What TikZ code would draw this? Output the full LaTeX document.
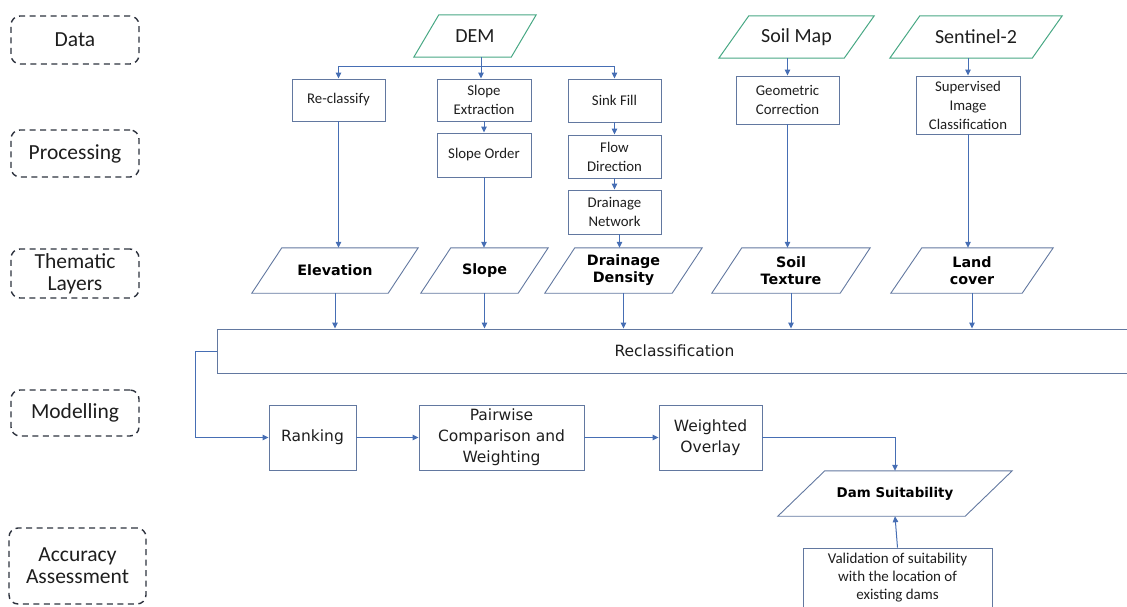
\documentclass[tikz,border=0pt]{standalone}
\usepackage{fontspec}
\setmainfont{Carlito}
\newfontfamily\dvs{DejaVu Sans}
\usetikzlibrary{arrows.meta}
\definecolor{boxc}{RGB}{98,120,160}
\definecolor{arrc}{RGB}{70,110,180}
\definecolor{grn}{RGB}{72,168,132}
\definecolor{dashc}{RGB}{45,50,62}
\definecolor{txt}{RGB}{30,30,30}
\newcommand\parashape[3]{\draw[#1] ([xshift=#3]#2.north west) -- (#2.north east) -- ([xshift=-#3]#2.south east) -- (#2.south west) -- cycle;}
\begin{document}
\begin{tikzpicture}[x=1pt,y=-1pt,
  stage/.style={draw=dashc, line width=1.4pt, dash pattern=on 6pt off 4.5pt, rounded corners=9pt, align=center, text=txt, font=\fontsize{21.5}{22}\selectfont, inner sep=0pt},
  proc/.style={draw=boxc, line width=0.9pt, align=center, inner sep=0pt, text=txt, font=\fontsize{14.8}{19}\selectfont},
  mbox/.style={draw=boxc, line width=0.9pt, align=center, inner sep=0pt, text=txt, font=\dvs\fontsize{15.5}{21}\selectfont},
  para/.style={inner sep=0pt, align=center, text=black, font=\dvs\bfseries\fontsize{14.3}{17}\selectfont},
  gpara/.style={inner sep=0pt, align=center, text=txt, font=\fontsize{20}{22}\selectfont},
  pline/.style={draw=boxc, line width=0.9pt},
  gline/.style={draw=grn, line width=1pt},
  ln/.style={draw=arrc, line width=1pt},
  arr/.style={ln, -{Triangle[length=6pt,width=5.5pt]}},
]
\useasboundingbox (0,0) rectangle (1127,606);

% stage labels
\node[stage, minimum width=128pt, minimum height=48pt] (sdata) at (75,40) {Data};
\node[stage, minimum width=128pt, minimum height=47pt] (sproc) at (75,153.5) {Processing};
\node[stage, minimum width=128pt, minimum height=49pt] (sthem) at (75,273.5) {Thematic\\Layers};
\node[stage, minimum width=128pt, minimum height=46pt] (smod) at (75,413) {Modelling};
\node[stage, minimum width=137pt, minimum height=76pt] (sacc) at (77.5,566) {Accuracy\\Assessment};

% data inputs
\node[gpara, minimum width=122pt, minimum height=42pt] (dem) at (475,36) {DEM};
\parashape{gline}{dem}{25pt}
\node[gpara, minimum width=155pt, minimum height=42pt] (soilmap) at (796.5,37) {Soil Map};
\parashape{gline}{soilmap}{30pt}
\node[gpara, minimum width=172pt, minimum height=42pt] (sent) at (976,37) {Sentinel-2};
\parashape{gline}{sent}{30pt}

% processing
\node[proc, minimum width=93pt, minimum height=42pt] (reclass) at (338.5,100) {Re-classify};
\node[proc, minimum width=94pt, minimum height=42pt] (slopeext) at (484,100) {Slope\\Extraction};
\node[proc, minimum width=94pt, minimum height=44pt] (slopeord) at (484,155) {Slope Order};
\node[proc, minimum width=93pt, minimum height=43pt] (sink) at (614.5,100.5) {Sink Fill};
\node[proc, minimum width=93pt, minimum height=43pt] (flow) at (614.5,156.5) {Flow\\Direction};
\node[proc, minimum width=93pt, minimum height=44pt] (drainnet) at (614.5,212) {Drainage\\Network};
\node[proc, minimum width=103pt, minimum height=48pt] (geom) at (787.5,100) {Geometric\\Correction};
\node[proc, minimum width=104pt, minimum height=58pt] (superv) at (968,105) {Supervised\\Image\\Classification};

% thematic layers
\node[para, minimum width=166pt, minimum height=45pt] (elev) at (335,270.5) {Elevation};
\parashape{pline}{elev}{30pt}
\node[para, minimum width=127pt, minimum height=45pt] (slope) at (484.5,270.5) {Slope};
\parashape{pline}{slope}{30pt}
\node[para, minimum width=157pt, minimum height=45pt] (drainden) at (623.5,270.5) {Drainage\\Density};
\parashape{pline}{drainden}{30pt}
\node[para, minimum width=158pt, minimum height=45pt] (soiltex) at (791,270.5) {Soil\\Texture};
\parashape{pline}{soiltex}{30pt}
\node[para, minimum width=162pt, minimum height=45pt] (landcov) at (972,270.5) {Land\\cover};
\parashape{pline}{landcov}{31pt}

% reclassification
\node[mbox, minimum width=915pt, minimum height=44pt] (rcl) at (674.5,351) {Reclassification};

% modelling
\node[mbox, minimum width=87pt, minimum height=65pt] (rank) at (312.5,437.5) {Ranking};
\node[mbox, minimum width=165pt, minimum height=65pt] (pair) at (501.5,437.5) {Pairwise\\Comparison and\\Weighting};
\node[mbox, minimum width=103pt, minimum height=65pt] (wover) at (710.5,437.5) {Weighted\\Overlay};

% result
\node[para, font=\dvs\bfseries\fontsize{13.4}{16}\selectfont, minimum width=234pt, minimum height=45pt] (dam) at (895,493.5) {Dam Suitability};
\parashape{pline}{dam}{47pt}
\node[proc, font=\fontsize{15}{18}\selectfont, minimum width=189pt, minimum height=60pt] (valid) at (897.5,578) {Validation of suitability\\with the location of\\existing dams};

% connectors
\coordinate (split) at (481,66);
\coordinate (bendx) at (195,351);
\draw[ln] (dem.south -| split) -- (split);
\draw[ln] (split -| reclass.north) -- (split -| sink.north);
\draw[arr] (split -| reclass.north) -- (reclass.north);
\draw[arr] (split) -- (split |- slopeext.north);
\draw[arr] (split -| sink.north) -- (sink.north);
\draw[arr] (geom.north |- soilmap.south) -- (geom.north);
\draw[arr] (superv.north |- sent.south) -- (superv.north);

\draw[arr] (slopeext.south) -- (slopeord.north);
\draw[arr] (sink.south) -- (flow.north);
\draw[arr] (flow.south) -- (drainnet.north);

\draw[arr] (reclass.south) -- (reclass.south |- elev.north);
\draw[arr] (slopeord.south) -- (slopeord.south |- slope.north);
\draw[arr] ([xshift=5pt]drainnet.south) -- ([xshift=5pt]drainnet.south |- drainden.north);
\draw[arr] (geom.south) -- (geom.south |- soiltex.north);
\draw[arr] (superv.south) -- (superv.south |- landcov.north);

\draw[arr] (elev.south) -- (elev.south |- rcl.north);
\draw[arr] (slope.south) -- (slope.south |- rcl.north);
\draw[arr] (drainden.south) -- (drainden.south |- rcl.north);
\draw[arr] (soiltex.south) -- (soiltex.south |- rcl.north);
\draw[arr] (landcov.south) -- (landcov.south |- rcl.north);

\draw[arr] (rcl.west) -- (bendx) |- (rank.west);
\draw[arr] (rank.east) -- (pair.west);
\draw[arr] (pair.east) -- (wover.west);
\draw[arr] (wover.east) -| (dam.north);
\draw[arr] (valid.north) -- (dam.south);
\end{tikzpicture}
\end{document}
